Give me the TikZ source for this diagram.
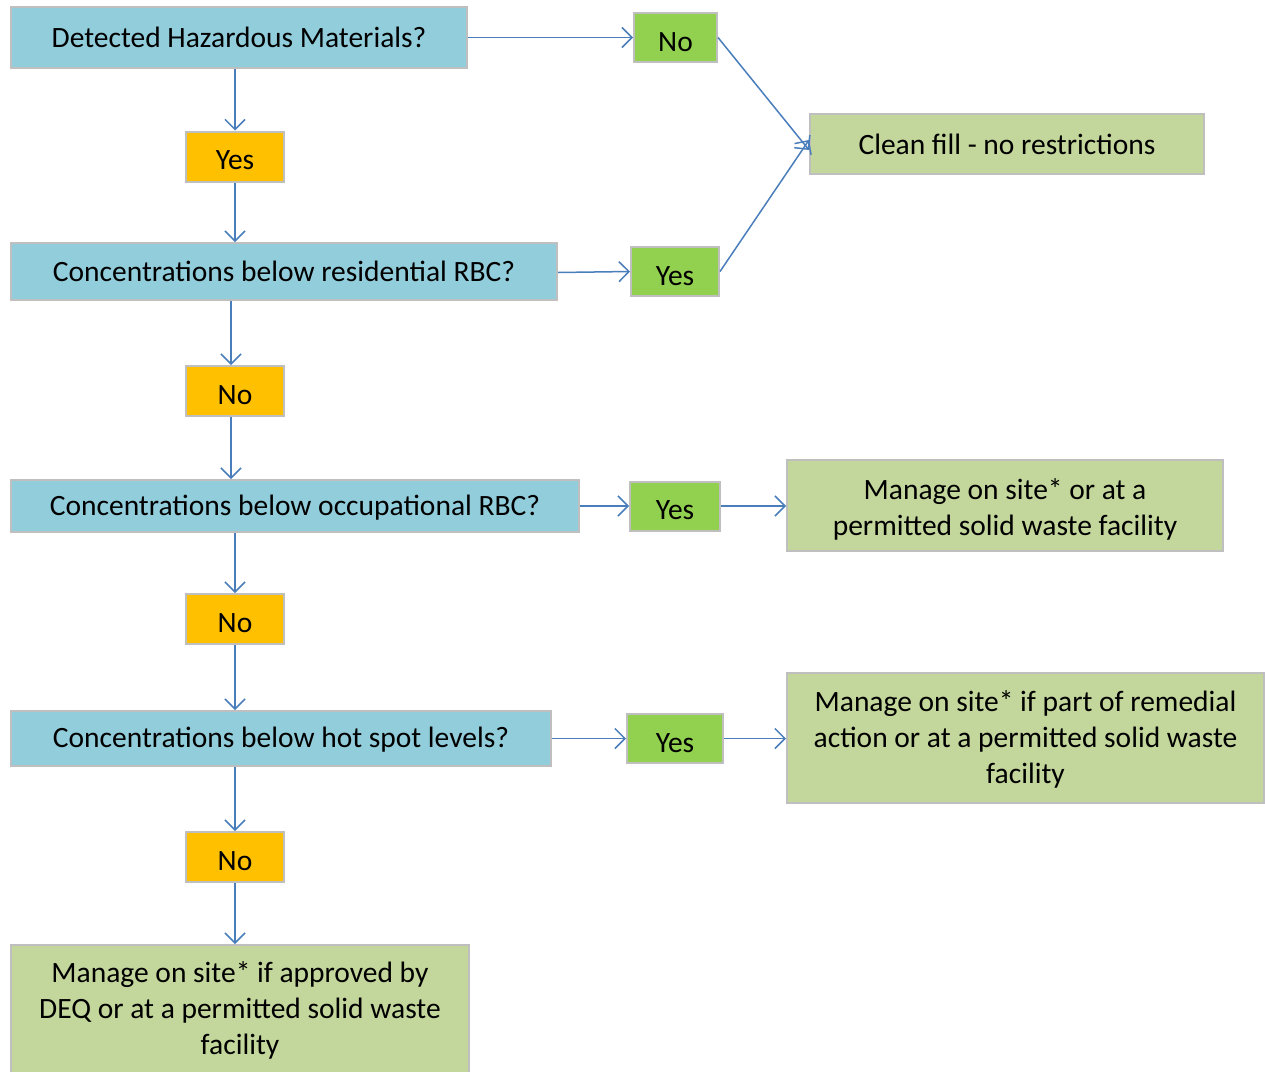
\documentclass[tikz,border=0pt]{standalone}
\usepackage{fontspec}
\setmainfont{Carlito}
\usetikzlibrary{arrows.meta}
\definecolor{qblue}{HTML}{92CDDC}
\definecolor{qorange}{HTML}{FFC000}
\definecolor{qgreen}{HTML}{92D050}
\definecolor{qolive}{HTML}{C3D69B}
\definecolor{qborder}{HTML}{BFBFBF}
\definecolor{qline}{HTML}{4A7EBB}
\tikzset{
  box/.style={draw=qborder, line width=2pt, inner sep=0pt, align=center,
    font=\fontsize{29.5}{36}\selectfont},
  qbox/.style={box, fill=qblue},
  obox/.style={box, fill=qorange, minimum width=98pt, minimum height=50pt, text height=26pt, text depth=0pt},
  gbox/.style={box, fill=qgreen, minimum height=49pt, text height=27pt, text depth=0pt},
  rbox/.style={box, fill=qolive},
  conn/.style={draw=qline, line width=1.5pt, -{Straight Barb[length=10pt,width=20pt,line width=1.5pt]}},
}
\begin{document}
\begin{tikzpicture}[x=1pt,y=-1pt]
\useasboundingbox (0,0) rectangle (1265,1071);
% question boxes
\node[qbox, minimum width=456pt, minimum height=61pt] (q1) at (239,37.5) {Detected Hazardous Materials?};
\node[qbox, minimum width=546pt, minimum height=57pt] (q2) at (284,271.5) {Concentrations below residential RBC?};
\node[qbox, minimum width=568pt, minimum height=52pt, text height=24pt, text depth=6pt] (q3) at (295,506) {Concentrations below occupational RBC?};
\node[qbox, minimum width=540pt, minimum height=55pt, text height=24pt, text depth=6pt] (q4) at (281,738.5) {Concentrations below hot spot levels?};
% orange answers
\node[obox] (y1) at (235,156.5) {Yes};
\node[obox] (n1) at (235,391) {No};
\node[obox] (n2) at (235,619) {No};
\node[obox] (n3) at (235,857) {No};
% green answers
\node[gbox, minimum width=83pt] (g1) at (675.5,37.5) {No};
\node[gbox, minimum width=88pt] (g2) at (675,271.5) {Yes};
\node[gbox, minimum width=90pt] (g3) at (675,506) {Yes};
\node[gbox, minimum width=96pt] (g4) at (675,738.5) {Yes};
% results
\node[rbox, minimum width=394pt, minimum height=60pt] (r1) at (1007,144) {Clean fill - no restrictions};
\node[rbox, minimum width=436pt, minimum height=91pt] (r2) at (1005,505.5) {\rule{0pt}{28pt}Manage on site* or at a\\permitted solid waste facility};
\node[rbox, minimum width=477pt, minimum height=130pt] (r3) at (1025.5,738) {\rule{0pt}{24pt}Manage on site* if part of remedial\\action or at a permitted solid waste\\facility};
\node[rbox, minimum width=458pt, minimum height=130pt, anchor=north] (r4) at (240,944) {Manage on site* if approved by\\DEQ or at a permitted solid waste\\facility};
% vertical connectors
\draw[conn] (y1.north |- q1.south) -- (y1.north);
\draw[conn] (y1.south) -- (y1.south |- q2.north);
\draw[conn] ([xshift=-4pt]n1.north |- q2.south) -- ([xshift=-4pt]n1.north);
\draw[conn] ([xshift=-4pt]n1.south) -- ([xshift=-4pt]n1.south |- q3.north);
\draw[conn] (n2.north |- q3.south) -- (n2.north);
\draw[conn] (n2.south) -- (n2.south |- q4.north);
\draw[conn] (n3.north |- q4.south) -- (n3.north);
\draw[conn] (n3.south) -- (n3.south |- r4.north);
% horizontal connectors
\draw[conn] (q1.east) -- (g1.west);
\draw[conn] ([yshift=-1pt]q2.east) -- (g2.west);
\draw[conn] (q3.east) -- (g3.west);
\draw[conn] (q4.east) -- (g4.west);
\draw[conn] (g3.east) -- (r2.west |- g3.east);
\draw[conn] (g4.east) -- (r3.west |- g4.east);
% diagonals to clean fill
\draw[conn] (g1.east) -- ([yshift=-6pt]r1.west);
\draw[conn] (g2.east) -- ([yshift=4pt]r1.west);
\end{tikzpicture}
\end{document}
